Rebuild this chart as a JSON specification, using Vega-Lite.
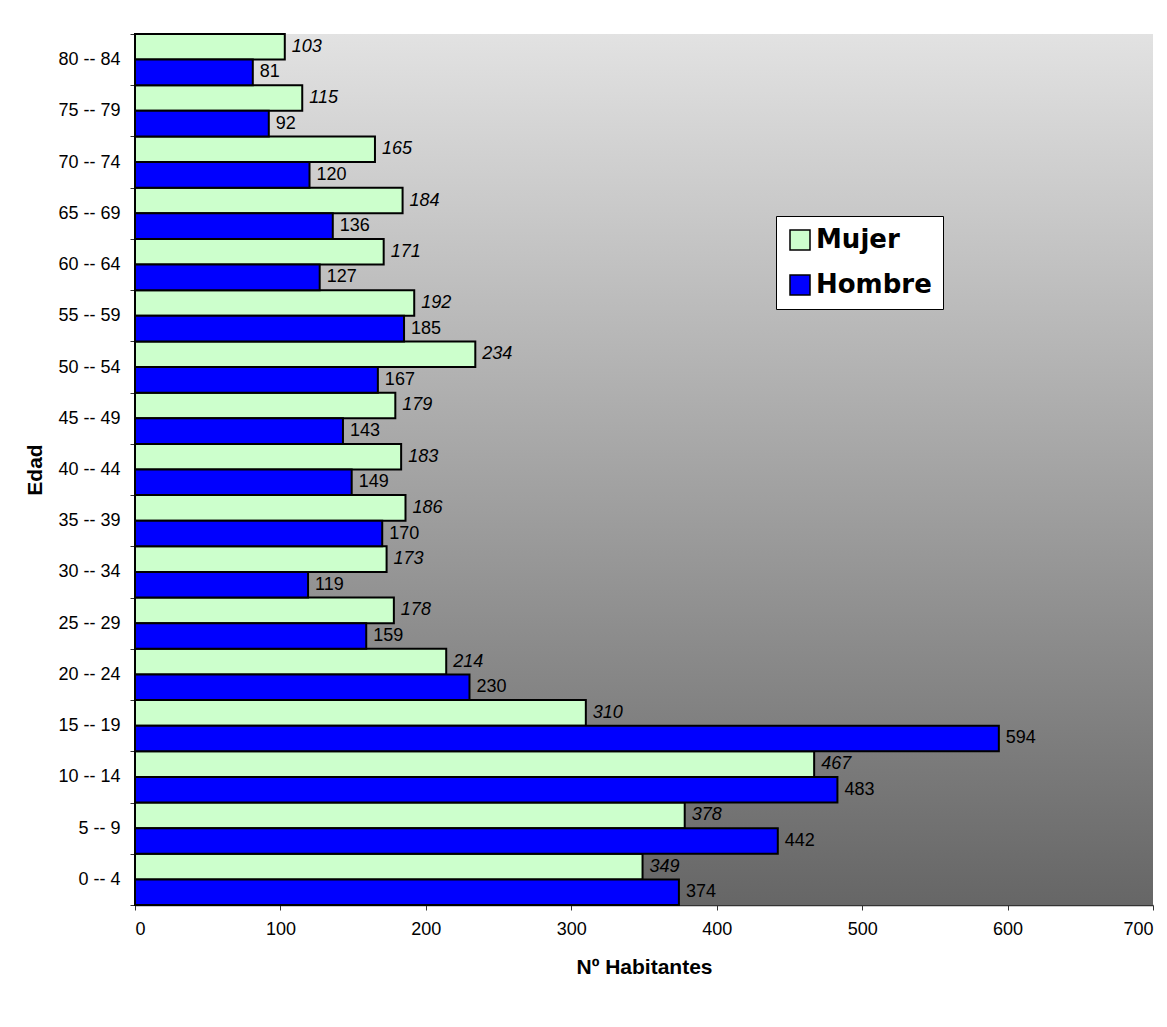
{
  "$schema": "https://vega.github.io/schema/vega-lite/v6.json",
  "width": 1018,
  "height": 871,
  "autosize": {"type": "none"},
  "padding": {"left": 135, "top": 34, "right": 14, "bottom": 122},
  "background": "white",
  "config": {
    "font": "Liberation Sans",
    "view": {"stroke": null},
    "axis": {"labelFont": "Liberation Sans", "titleFont": "Liberation Sans", "labelColor": "black", "titleColor": "black", "grid": false}
  },
  "data": {
    "values": [
      {"edad": "0 -- 4", "sexo": "Mujer", "valor": 349},
      {"edad": "0 -- 4", "sexo": "Hombre", "valor": 374},
      {"edad": "5 -- 9", "sexo": "Mujer", "valor": 378},
      {"edad": "5 -- 9", "sexo": "Hombre", "valor": 442},
      {"edad": "10 -- 14", "sexo": "Mujer", "valor": 467},
      {"edad": "10 -- 14", "sexo": "Hombre", "valor": 483},
      {"edad": "15 -- 19", "sexo": "Mujer", "valor": 310},
      {"edad": "15 -- 19", "sexo": "Hombre", "valor": 594},
      {"edad": "20 -- 24", "sexo": "Mujer", "valor": 214},
      {"edad": "20 -- 24", "sexo": "Hombre", "valor": 230},
      {"edad": "25 -- 29", "sexo": "Mujer", "valor": 178},
      {"edad": "25 -- 29", "sexo": "Hombre", "valor": 159},
      {"edad": "30 -- 34", "sexo": "Mujer", "valor": 173},
      {"edad": "30 -- 34", "sexo": "Hombre", "valor": 119},
      {"edad": "35 -- 39", "sexo": "Mujer", "valor": 186},
      {"edad": "35 -- 39", "sexo": "Hombre", "valor": 170},
      {"edad": "40 -- 44", "sexo": "Mujer", "valor": 183},
      {"edad": "40 -- 44", "sexo": "Hombre", "valor": 149},
      {"edad": "45 -- 49", "sexo": "Mujer", "valor": 179},
      {"edad": "45 -- 49", "sexo": "Hombre", "valor": 143},
      {"edad": "50 -- 54", "sexo": "Mujer", "valor": 234},
      {"edad": "50 -- 54", "sexo": "Hombre", "valor": 167},
      {"edad": "55 -- 59", "sexo": "Mujer", "valor": 192},
      {"edad": "55 -- 59", "sexo": "Hombre", "valor": 185},
      {"edad": "60 -- 64", "sexo": "Mujer", "valor": 171},
      {"edad": "60 -- 64", "sexo": "Hombre", "valor": 127},
      {"edad": "65 -- 69", "sexo": "Mujer", "valor": 184},
      {"edad": "65 -- 69", "sexo": "Hombre", "valor": 136},
      {"edad": "70 -- 74", "sexo": "Mujer", "valor": 165},
      {"edad": "70 -- 74", "sexo": "Hombre", "valor": 120},
      {"edad": "75 -- 79", "sexo": "Mujer", "valor": 115},
      {"edad": "75 -- 79", "sexo": "Hombre", "valor": 92},
      {"edad": "80 -- 84", "sexo": "Mujer", "valor": 103},
      {"edad": "80 -- 84", "sexo": "Hombre", "valor": 81}
    ]
  },
  "encoding": {
    "y": {
      "field": "edad",
      "type": "nominal",
      "sort": ["80 -- 84", "75 -- 79", "70 -- 74", "65 -- 69", "60 -- 64", "55 -- 59", "50 -- 54", "45 -- 49", "40 -- 44", "35 -- 39", "30 -- 34", "25 -- 29", "20 -- 24", "15 -- 19", "10 -- 14", "5 -- 9", "0 -- 4"],
      "scale": {"paddingInner": 0, "paddingOuter": 0},
      "axis": {
        "title": "Edad",
        "titleFontSize": 21,
        "titleFontWeight": "bold",
        "titlePadding": 12,
        "labelFontSize": 18,
        "labelPadding": 10,
        "tickSize": 5,
        "tickBand": "extent",
        "tickColor": "#333333",
        "domainColor": "black",
        "domainWidth": 2
      }
    }
  },
  "layer": [
    {
      "mark": {
        "type": "rect",
        "fill": {
          "gradient": "linear",
          "x1": 0, "y1": 0, "x2": 0, "y2": 1,
          "stops": [
            {"offset": 0, "color": "#e2e2e2"},
            {"offset": 1, "color": "#666666"}
          ]
        }
      },
      "encoding": {
        "x": {"datum": 0, "type": "quantitative"},
        "x2": {"datum": 700},
        "y": null
      }
    },
    {
      "mark": {"type": "bar", "stroke": "black", "strokeWidth": 2},
      "encoding": {
        "x": {
          "field": "valor",
          "type": "quantitative",
          "scale": {"domain": [0, 700], "nice": false},
          "axis": {
            "title": "Nº Habitantes",
            "titleFontSize": 21,
            "titleFontWeight": "bold",
            "titlePadding": 18,
            "labelFontSize": 18,
            "labelPadding": 10,
            "values": [0, 100, 200, 300, 400, 500, 600, 700],
            "tickSize": 5,
            "tickColor": "#333333",
            "domainColor": "#333333",
            "domainWidth": 1.5
          }
        },
        "yOffset": {"field": "sexo", "type": "nominal", "sort": ["Mujer", "Hombre"], "scale": {"paddingInner": 0, "paddingOuter": 0}},
        "color": {
          "field": "sexo",
          "type": "nominal",
          "scale": {"domain": ["Mujer", "Hombre"], "range": ["#ccffcc", "#0000ff"]},
          "legend": {
            "title": null,
            "orient": "none",
            "legendX": 641,
            "legendY": 182,
            "fillColor": "white",
            "strokeColor": "black",
            "padding": 11,
            "symbolType": "square",
            "symbolSize": 400,
            "symbolStrokeColor": "black",
            "symbolStrokeWidth": 1.5,
            "symbolOpacity": 1,
            "labelFont": "DejaVu Sans",
            "labelFontWeight": "bold",
            "labelFontSize": 26,
            "labelColor": "black",
            "labelOffset": 3,
            "rowPadding": 19
          }
        }
      }
    },
    {
      "transform": [{"filter": "datum.sexo === 'Mujer'"}],
      "mark": {"type": "text", "align": "left", "baseline": "middle", "dx": 7, "fontSize": 18, "fontStyle": "italic", "color": "black"},
      "encoding": {
        "x": {"field": "valor", "type": "quantitative"},
        "yOffset": {"field": "sexo", "type": "nominal", "sort": ["Mujer", "Hombre"]},
        "text": {"field": "valor", "type": "quantitative"}
      }
    },
    {
      "transform": [{"filter": "datum.sexo === 'Hombre'"}],
      "mark": {"type": "text", "align": "left", "baseline": "middle", "dx": 7, "fontSize": 18, "color": "black"},
      "encoding": {
        "x": {"field": "valor", "type": "quantitative"},
        "yOffset": {"field": "sexo", "type": "nominal", "sort": ["Mujer", "Hombre"]},
        "text": {"field": "valor", "type": "quantitative"}
      }
    }
  ]
}
